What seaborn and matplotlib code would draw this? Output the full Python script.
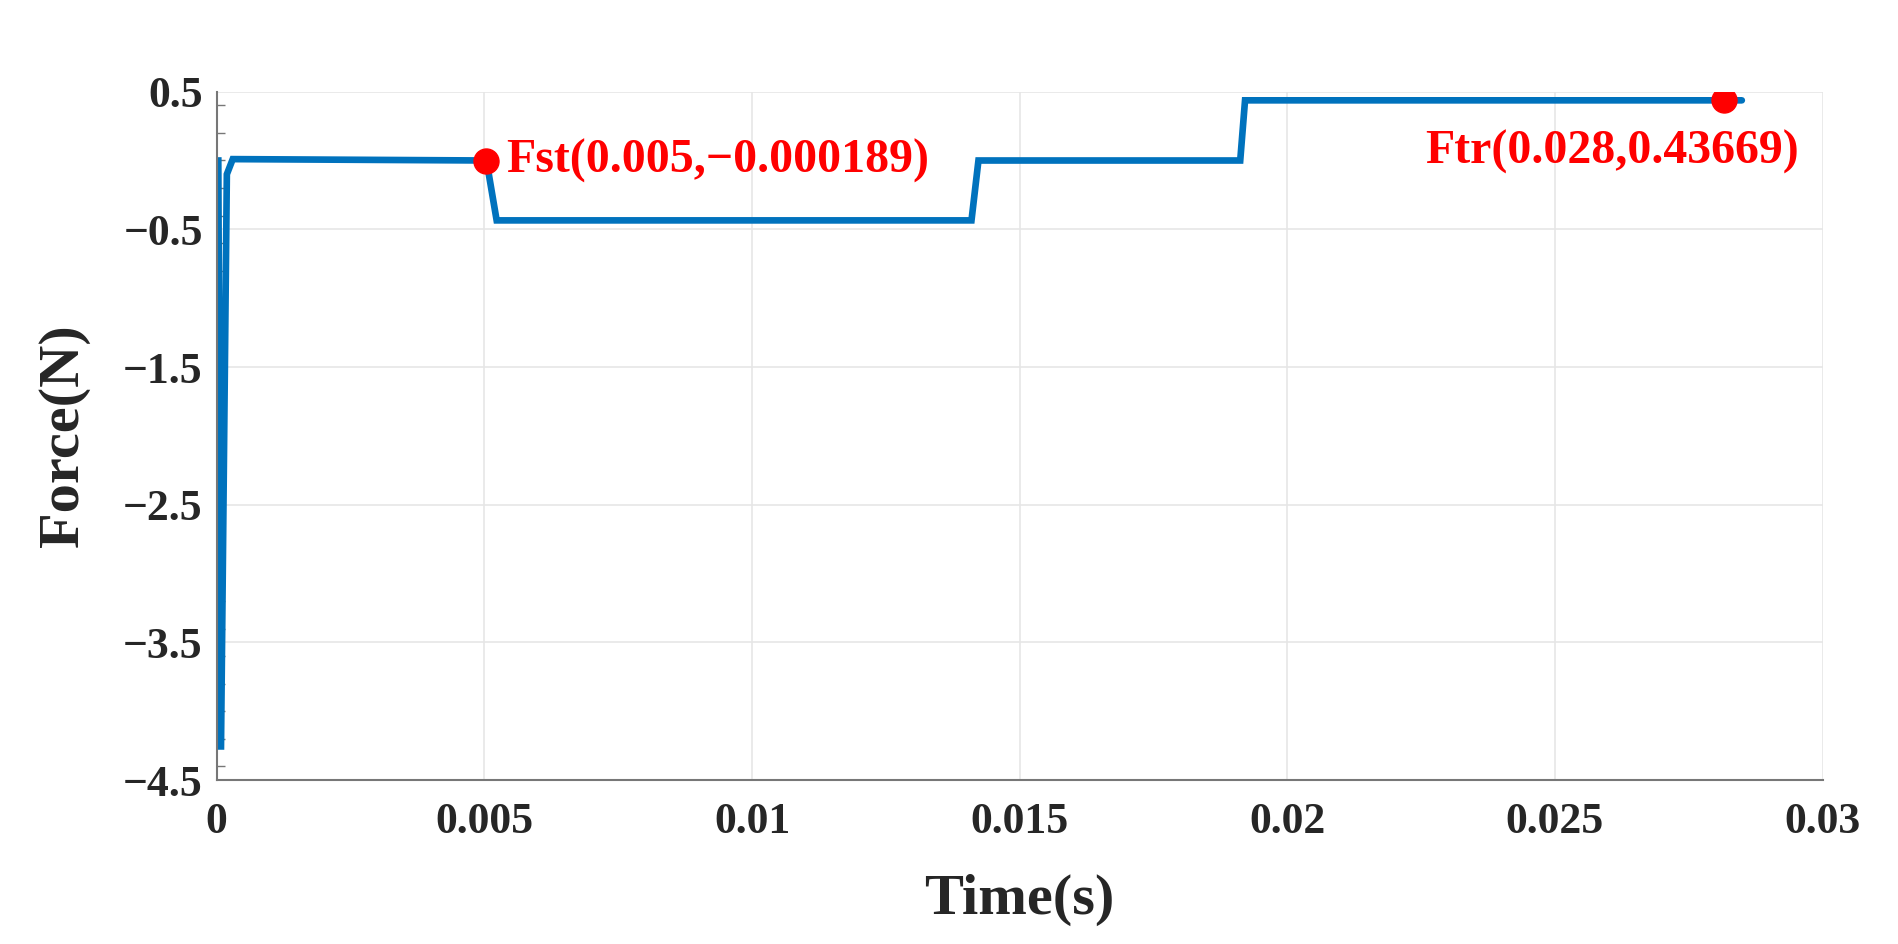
import matplotlib
matplotlib.use("Agg")
import matplotlib.pyplot as plt
import seaborn as sns
import pandas as pd
from matplotlib.ticker import MultipleLocator

# ---- data ----
time_s = [0.0, 0.00003, 0.00008, 0.00019, 0.0003, 0.00504, 0.00523,
          0.01410, 0.01423, 0.01912, 0.01921, 0.02849]
force_n = [0.0, 0.0, -4.28, -0.10, 0.01, 0.0, -0.435,
           -0.435, 0.0, 0.0, 0.437, 0.437]

fst_point = (0.00504, -0.000189)
ftr_point = (0.02816, 0.43669)
fst_label = "Fst(0.005,\u22120.000189)"
ftr_label = "Ftr(0.028,0.43669)"

x_ticks = [0, 0.005, 0.01, 0.015, 0.02, 0.025, 0.03]
x_tick_labels = ["0", "0.005", "0.01", "0.015", "0.02", "0.025", "0.03"]
y_ticks = [0.5, -0.5, -1.5, -2.5, -3.5, -4.5]
y_tick_labels = ["0.5", "\u22120.5", "\u22121.5", "\u22122.5", "\u22123.5", "\u22124.5"]

df = pd.DataFrame({"Time": time_s, "Force": force_n})

sns.set_theme(style="white")
plt.rcParams["font.family"] = ["Liberation Serif", "DejaVu Serif"]
plt.rcParams["font.weight"] = "bold"
plt.rcParams["axes.labelweight"] = "bold"

fig = plt.figure(figsize=(18.99, 9.44), dpi=100)
ax = fig.add_axes([0.1141, 0.1737, 0.9598 - 0.1141, 0.9029 - 0.1737])

line_color = "#0072BD"
sns.lineplot(data=df, x="Time", y="Force", ax=ax, color=line_color,
             linewidth=4.8, estimator=None, sort=False, solid_joinstyle="miter")

ax.plot([fst_point[0]], [fst_point[1]], "o", color="red", markersize=18, zorder=5)
ax.plot([ftr_point[0]], [ftr_point[1]], "o", color="red", markersize=18, zorder=5)

ax.text(0.00540, 0.0, fst_label, color="red", fontsize=34.5, fontweight="bold",
        ha="left", va="center")
ax.text(0.02955, 0.065, ftr_label, color="red", fontsize=34.5, fontweight="bold",
        ha="right", va="center")

ax.set_xlim(0, 0.03)
ax.set_ylim(-4.5, 0.5)
ax.set_xticks(x_ticks)
ax.set_xticklabels(x_tick_labels)
ax.set_yticks(y_ticks)
ax.set_yticklabels(y_tick_labels)
ax.yaxis.set_minor_locator(MultipleLocator(0.2))

ax.grid(True, which="major", color="#e6e6e6", linewidth=1.2)
ax.set_axisbelow(True)

for side in ["top", "right"]:
    ax.spines[side].set_visible(False)
for side in ["left", "bottom"]:
    ax.spines[side].set_color("#777777")
    ax.spines[side].set_linewidth(1.5)

ax.tick_params(axis="both", which="major", direction="in", length=12, width=1.2,
               color="#777777", labelsize=31.5, labelcolor="#262626")
ax.tick_params(axis="x", which="major", pad=16)
ax.tick_params(axis="y", which="major", pad=10)
ax.tick_params(axis="y", which="minor", direction="in", length=6, width=1.0,
               color="#777777", left=True)
for lab in ax.get_xticklabels() + ax.get_yticklabels():
    lab.set_fontweight("bold")

ax.set_xlabel("Time(s)", fontsize=42, fontweight="bold", color="#262626", labelpad=23)
ax.set_ylabel("Force(N)", fontsize=42, fontweight="bold", color="#262626", labelpad=24)

fig.savefig("out.png", dpi=100, facecolor="white")
